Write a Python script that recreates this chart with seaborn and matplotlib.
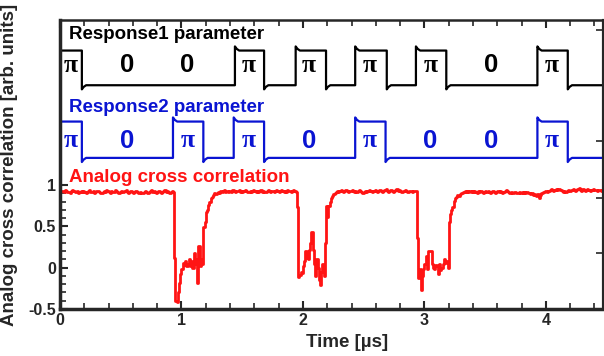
import numpy as np
import pandas as pd
import matplotlib
matplotlib.use('Agg')
import matplotlib.pyplot as plt
import seaborn as sns
from matplotlib.ticker import FixedLocator, MultipleLocator, NullFormatter

# ---- data ----
# analog cross correlation, one sample every 0.01 us from 0 to 4.47 us
corr = [
    0.92, 0.93, 0.93, 0.92, 0.94, 0.93, 0.92, 0.92, 0.91, 0.93, 0.94, 0.93, 0.92, 0.92, 0.93, 0.91, 0.92, 0.93, 0.92, 0.93,
    0.92, 0.91, 0.92, 0.93, 0.94, 0.92, 0.92, 0.93, 0.91, 0.92, 0.93, 0.93, 0.92, 0.90, 0.91, 0.92, 0.93, 0.92, 0.94, 0.93,
    0.92, 0.91, 0.93, 0.92, 0.92, 0.94, 0.93, 0.92, 0.91, 0.92, 0.93, 0.92, 0.92, 0.93, 0.94, 0.92, 0.91, 0.92, 0.93, 0.92,
    0.91, 0.92, 0.93, 0.92, 0.91, 0.90, 0.92, 0.91, 0.91, 0.92, 0.93, 0.92, 0.91, 0.92, 0.93, 0.94, 0.92, 0.93, 0.92, 0.91,
    0.92, 0.93, 0.92, 0.91, 0.92, 0.93, 0.94, 0.92, 0.93, 0.92, 0.91, 0.92, 0.93, 0.92, 0.12, -0.40, -0.41, -0.30, -0.18, -0.08,
    -0.02, 0.06, 0.03, 0.08, 0.02, 0.05, 0.10, 0.02, 0.08, 0.00, 0.18, 0.04, 0.10, -0.18, 0.26, 0.02, 0.10, 0.05, 0.49, 0.55,
    0.67, 0.70, 0.76, 0.79, 0.84, 0.86, 0.88, 0.90, 0.89, 0.91, 0.92, 0.91, 0.93, 0.92, 0.93, 0.94, 0.92, 0.93, 0.92, 0.93,
    0.93, 0.92, 0.94, 0.93, 0.92, 0.93, 0.93, 0.94, 0.92, 0.93, 0.92, 0.93, 0.94, 0.93, 0.92, 0.92, 0.93, 0.92, 0.93, 0.94,
    0.93, 0.92, 0.93, 0.92, 0.93, 0.94, 0.92, 0.93, 0.92, 0.92, 0.93, 0.94, 0.93, 0.92, 0.93, 0.93, 0.92, 0.93, 0.94, 0.93,
    0.92, 0.93, 0.94, 0.93, 0.92, 0.93, 0.92, 0.94, 0.93, 0.93, 0.92, 0.93, 0.94, 0.93, 0.92, 0.74, -0.11, -0.09, -0.05, -0.07,
    0.02, 0.08, 0.20, 0.12, 0.10, 0.22, 0.30, 0.43, 0.22, 0.05, -0.10, 0.10, 0.00, -0.15, -0.21, -0.05, 0.05, -0.10, 0.30, 0.75,
    0.62, 0.75, 0.80, 0.84, 0.87, 0.89, 0.90, 0.92, 0.93, 0.92, 0.93, 0.94, 0.93, 0.92, 0.93, 0.94, 0.93, 0.92, 0.93, 0.93,
    0.94, 0.93, 0.92, 0.93, 0.92, 0.93, 0.94, 0.93, 0.92, 0.91, 0.92, 0.93, 0.92, 0.93, 0.94, 0.93, 0.93, 0.92, 0.93, 0.94,
    0.93, 0.92, 0.93, 0.94, 0.93, 0.92, 0.93, 0.94, 0.95, 0.93, 0.92, 0.93, 0.94, 0.93, 0.92, 0.93, 0.94, 0.95, 0.93, 0.94,
    0.93, 0.92, 0.93, 0.93, 0.94, 0.93, 0.92, 0.93, 0.93, 0.93, 0.92, 0.93, 0.93, 0.93, 0.36, -0.13, -0.02, -0.27, -0.10, -0.02,
    0.05, 0.14, -0.02, 0.20, 0.20, 0.20, 0.04, 0.00, -0.02, 0.03, 0.02, -0.08, 0.04, -0.03, 0.00, 0.05, 0.10, 0.06, 0.08, 0.00,
    0.55, 0.65, 0.70, 0.74, 0.81, 0.84, 0.86, 0.88, 0.87, 0.89, 0.91, 0.90, 0.92, 0.93, 0.92, 0.93, 0.92, 0.93, 0.92, 0.93,
    0.92, 0.93, 0.92, 0.91, 0.93, 0.92, 0.93, 0.92, 0.91, 0.92, 0.93, 0.92, 0.93, 0.92, 0.91, 0.92, 0.93, 0.92, 0.91, 0.92,
    0.93, 0.92, 0.93, 0.92, 0.91, 0.92, 0.93, 0.94, 0.93, 0.92, 0.91, 0.92, 0.90, 0.91, 0.92, 0.91, 0.90, 0.91, 0.92, 0.91,
    0.92, 0.91, 0.92, 0.91, 0.92, 0.91, 0.90, 0.89, 0.90, 0.88, 0.89, 0.88, 0.87, 0.89, 0.84, 0.88, 0.90, 0.91, 0.92, 0.93,
    0.93, 0.92, 0.93, 0.94, 0.95, 0.94, 0.93, 0.94, 0.95, 0.94, 0.95, 0.95, 0.94, 0.93, 0.92, 0.93, 0.92, 0.93, 0.94, 0.93,
    0.93, 0.94, 0.95, 0.94, 0.93, 0.94, 0.95, 0.96, 0.94, 0.93, 0.95, 0.94, 0.93, 0.94, 0.95, 0.94, 0.93, 0.94, 0.94, 0.95,
    0.94, 0.94, 0.93, 0.94, 0.94, 0.93, 0.94, 0.94,
]
corr_dt = 0.01

# parameter traces: edge times (us), starting high
resp1_edges = [0.18, 1.44, 1.68, 1.94, 2.19, 2.43, 2.69, 2.93, 3.18, 3.93, 4.18]
resp1_levels = (2.63, 2.21)   # high, low
resp2_edges = [0.18, 0.93, 1.18, 1.43, 1.68, 2.43, 2.68, 3.93, 4.18]
resp2_levels = (1.77, 1.33)
overshoot = 0.05

# bit labels
label_x = [0.09, 0.55, 1.05, 1.55, 2.05, 2.55, 3.05, 3.55, 4.05]
resp1_bits = ['π', '0', '0', 'π', 'π', 'π', 'π', '0', 'π']
resp2_bits = ['π', '0', 'π', 'π', '0', 'π', '0', '0', 'π']
resp1_label_y = 2.45
resp2_label_y = 1.54

t_end = 4.47


def square_wave(edges, levels):
    hi, lo = levels
    xs, ys = [0.0], [hi]
    level = hi
    for t in edges:
        new = lo if level == hi else hi
        shoot = overshoot if new == hi else -overshoot
        xs += [t, t, t + 0.015, t + 0.035]
        ys += [level, new + shoot, new + shoot * 0.4, new]
        level = new
    xs.append(t_end)
    ys.append(level)
    return pd.DataFrame({'t': xs, 'y': ys})


corr_df = pd.DataFrame({'t': np.arange(len(corr)) * corr_dt, 'y': corr})
r1_df = square_wave(resp1_edges, resp1_levels)
r2_df = square_wave(resp2_edges, resp2_levels)

# ---- plot ----
sns.set_style('ticks')
plt.rcParams['font.family'] = ['Liberation Sans', 'DejaVu Sans']
plt.rcParams['font.weight'] = 'bold'

fig = plt.figure(figsize=(6.04, 3.56), dpi=100)
ax = fig.add_axes([60 / 604, 1 - 309 / 356, 543 / 604, 289 / 356])

sns.lineplot(data=r1_df, x='t', y='y', ax=ax, color='black', lw=1.6,
             estimator=None, sort=False)
sns.lineplot(data=r2_df, x='t', y='y', ax=ax, color='#0a14d2', lw=1.6,
             estimator=None, sort=False)
sns.lineplot(data=corr_df, x='t', y='y', ax=ax, color='#ff1414', lw=2.0,
             estimator=None, sort=False, drawstyle='steps-post')

for x, b in zip(label_x, resp1_bits):
    ax.text(x, resp1_label_y, b, ha='center', va='center', fontsize=18.5,
            fontweight='bold', color='black',
            family=['Liberation Serif'] if b == 'π' else ['Liberation Sans'])
for x, b in zip(label_x, resp2_bits):
    ax.text(x, resp2_label_y, b, ha='center', va='center', fontsize=18.5,
            fontweight='bold', color='#0a14d2',
            family=['Liberation Serif'] if b == 'π' else ['Liberation Sans'])

ax.text(0.07, 2.83, 'Response1 parameter', fontsize=13.5, fontweight='bold',
        color='black', va='center')
ax.text(0.07, 1.94, 'Response2 parameter', fontsize=13.5, fontweight='bold',
        color='#0a14d2', va='center')
ax.text(0.07, 1.09, 'Analog cross correlation', fontsize=13.5, fontweight='bold',
        color='#ff1414', va='center')

ax.set_xlim(0, t_end)
ax.set_ylim(-0.5, 3.0)
ax.xaxis.set_major_locator(MultipleLocator(1))
ax.xaxis.set_minor_locator(MultipleLocator(0.2))
ax.yaxis.set_major_locator(FixedLocator([-0.5, 0, 0.5, 1]))
ax.set_yticklabels(['-0.5', '0', '0.5', '1'])
ax.yaxis.set_minor_locator(FixedLocator([-0.4, -0.3, -0.2, -0.1, 0.1, 0.2, 0.3, 0.4,
                                         0.6, 0.7, 0.8, 0.9]))
ax.tick_params(axis='both', which='both', direction='in', top=True)
ax.tick_params(which='major', length=6, width=1.5, labelsize=11.5, pad=3)
ax.tick_params(which='minor', length=4, width=1.2)
for lab in ax.get_xticklabels() + ax.get_yticklabels():
    lab.set_fontweight('bold')

sec = ax.secondary_yaxis('right')
sec.set_yticks([0.18, 0.85, 1.54, 2.88])
sec.yaxis.set_major_formatter(NullFormatter())
sec.tick_params(direction='in', length=5, width=1.2)
sec.spines['right'].set_linewidth(1.5)

ax.spines['left'].set_linewidth(2.5)
ax.spines['bottom'].set_linewidth(2.5)
ax.spines['top'].set_linewidth(1.8)
ax.spines['right'].set_linewidth(1.5)

ax.set_xlabel('Time [µs]', fontsize=13.5, fontweight='bold')
ax.set_ylabel('Analog cross correlation [arb. units]', fontsize=13.5, fontweight='bold')
ax.xaxis.set_label_coords(0.529, -0.085)
ax.yaxis.set_label_coords(-0.077, 0.5)

fig.savefig('out.png', dpi=100)
